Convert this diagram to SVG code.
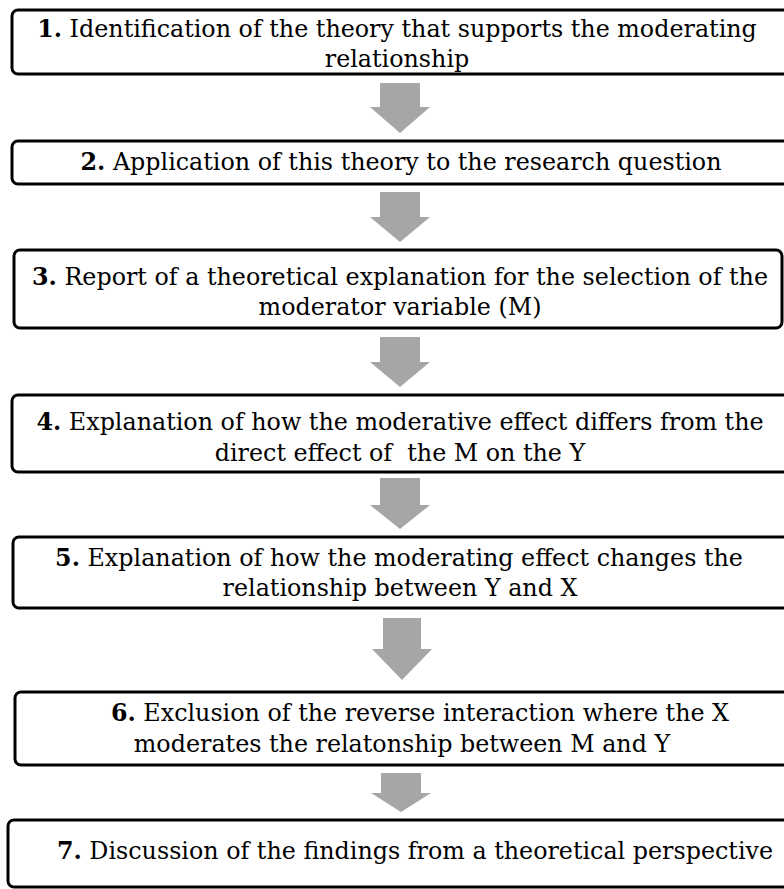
<svg xmlns="http://www.w3.org/2000/svg" width="784" height="889" viewBox="0 0 784 889">
<style>
.box{fill:#fff;stroke:#000;stroke-width:3}
.t{font-family:"DejaVu Serif","Liberation Serif",serif;font-size:23.8px;fill:#000;text-anchor:middle}
.n{font-weight:bold}
.arr{fill:#a6a6a6}
</style>
<rect width="784" height="889" fill="#fff"/>
<g id="connectors">
<polygon class="arr" points="380,83 420,83 420,107 430,107 400,133 370,107 380,107"/>
<polygon class="arr" points="380,192 420,192 420,217 430,217 400,242 370,217 380,217"/>
<polygon class="arr" points="380,337 420,337 420,362 430,362 400,387 370,362 380,362"/>
<polygon class="arr" points="380,478 420,478 420,505 430,505 400,529 370,505 380,505"/>
<polygon class="arr" points="383,618 421,618 421,649 432,649 402,680 372,649 383,649"/>
<polygon class="arr" points="381,773 421,773 421,793 431,793 401,812 371,793 381,793"/>
</g>
<g id="n1">
<rect class="box" x="12" y="10" width="780" height="64" rx="6"/>
<text class="t" x="397" y="37"><tspan class="n">1.</tspan> Identification of the theory that supports the moderating</text>
<text class="t" x="397" y="67">relationship</text>
</g>
<g id="n2">
<rect class="box" x="12" y="141" width="780" height="43" rx="6"/>
<text class="t" x="401" y="170"><tspan class="n">2.</tspan> Application of this theory to the research question</text>
</g>
<g id="n3">
<rect class="box" x="14" y="250" width="768" height="78" rx="6"/>
<text class="t" x="400" y="285"><tspan class="n">3.</tspan> Report of a theoretical explanation for the selection of the</text>
<text class="t" x="400" y="315">moderator variable (M)</text>
</g>
<g id="n4">
<rect class="box" x="12" y="395" width="780" height="77" rx="6"/>
<text class="t" x="400" y="430"><tspan class="n">4.</tspan> Explanation of how the moderative effect differs from the</text>
<text class="t" x="400" y="461" xml:space="preserve">direct effect of  the M on the Y</text>
</g>
<g id="n5">
<rect class="box" x="13" y="537" width="780" height="71" rx="6"/>
<text class="t" x="399" y="566"><tspan class="n">5.</tspan> Explanation of how the moderating effect changes the</text>
<text class="t" x="400" y="596">relationship between Y and X</text>
</g>
<g id="n6">
<rect class="box" x="15" y="692" width="780" height="73" rx="6"/>
<text class="t" x="420" y="721"><tspan class="n">6.</tspan> Exclusion of the reverse interaction where the X</text>
<text class="t" x="402" y="752">moderates the relatonship between M and Y</text>
</g>
<g id="n7">
<rect class="box" x="8" y="820" width="790" height="67" rx="6"/>
<text class="t" x="415" y="859"><tspan class="n">7.</tspan> Discussion of the findings from a theoretical perspective</text>
</g>
</svg>
